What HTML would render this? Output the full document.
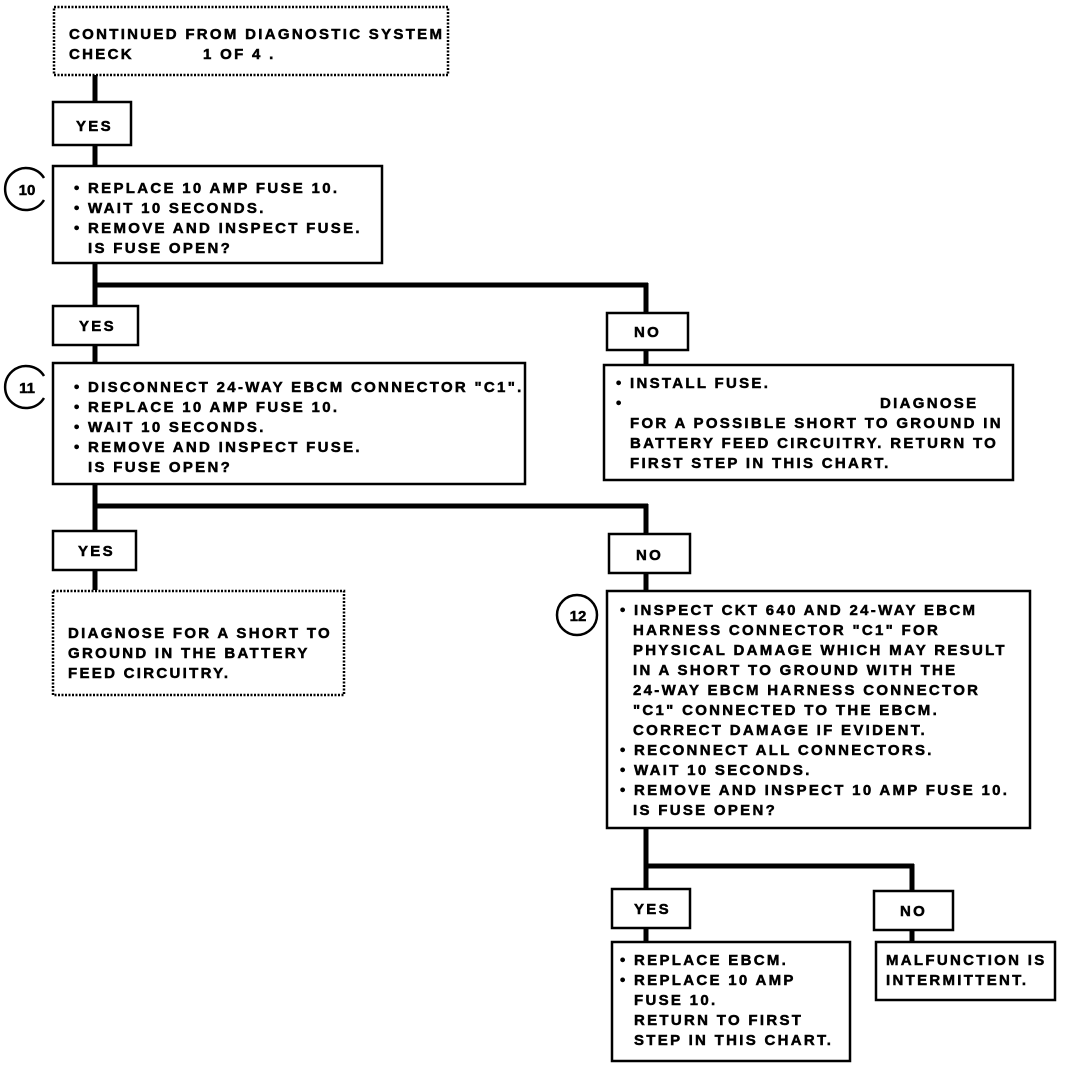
<!DOCTYPE html>
<html><head><meta charset="utf-8"><style>
html,body{margin:0;padding:0;background:#fff}
svg text{font-family:"Liberation Sans",Arial,sans-serif;font-weight:bold;font-size:15px;letter-spacing:2.3px;fill:#000;stroke:#000;stroke-width:0.5px}
</style></head><body>
<svg width="1072" height="1070" viewBox="0 0 1072 1070" xmlns="http://www.w3.org/2000/svg">
<g fill="none" stroke="#000">
<g stroke-width="5">
<line x1="95" y1="75" x2="95" y2="101"/>
<line x1="95" y1="145" x2="95" y2="165"/>
<line x1="95" y1="263" x2="95" y2="305"/>
<line x1="93" y1="285" x2="648" y2="285"/>
<line x1="646" y1="283" x2="646" y2="312"/>
<line x1="95" y1="345" x2="95" y2="362"/>
<line x1="646" y1="350" x2="646" y2="364"/>
<line x1="95" y1="484" x2="95" y2="530"/>
<line x1="93" y1="506" x2="648" y2="506"/>
<line x1="646" y1="504" x2="646" y2="533"/>
<line x1="95" y1="570" x2="95" y2="590"/>
<line x1="646" y1="573" x2="646" y2="590"/>
<line x1="646" y1="828" x2="646" y2="888"/>
<line x1="644" y1="866" x2="914" y2="866"/>
<line x1="912" y1="864" x2="912" y2="890"/>
<line x1="646" y1="928" x2="646" y2="941"/>
<line x1="912" y1="930" x2="912" y2="941"/>
</g>
<g stroke-width="2.5">
<rect x="54" y="7" width="394" height="68" stroke-dasharray="2 1.5"/>
<rect x="53" y="102" width="78" height="43"/>
<rect x="53" y="166" width="329" height="97"/>
<rect x="53" y="306" width="85" height="39"/>
<rect x="607" y="313" width="81" height="37"/>
<rect x="53" y="363" width="472" height="121"/>
<rect x="604" y="365" width="409" height="115"/>
<rect x="53" y="531" width="83" height="39"/>
<rect x="609" y="534" width="81" height="39"/>
<rect x="53" y="591" width="291" height="104" stroke-dasharray="2 1.5"/>
<rect x="607" y="591" width="423" height="237"/>
<rect x="612" y="889" width="78" height="39"/>
<rect x="874" y="891" width="79" height="39"/>
<rect x="612" y="942" width="238" height="119"/>
<rect x="876" y="942" width="179" height="58"/>
</g>
<g stroke-width="2.5">
<path d="M44 178 A21 21 0 1 0 44 200"/>
<path d="M44 376 A21 21 0 1 0 44 398"/>
<circle cx="577" cy="615" r="20"/>
</g>
</g>
<text x="27" y="195" text-anchor="middle" font-size="14" style="letter-spacing:0">10</text>
<text x="27" y="393" text-anchor="middle" font-size="14" style="letter-spacing:0">11</text>
<text x="578" y="621" text-anchor="middle" font-size="14" style="letter-spacing:0">12</text>

<text x="69" y="39">CONTINUED FROM DIAGNOSTIC SYSTEM</text>
<text x="69" y="59">CHECK</text><text x="203" y="59">1 OF 4 .</text>
<text x="76" y="131">YES</text>
<text x="74" y="193">• REPLACE 10 AMP FUSE 10.</text>
<text x="74" y="213">• WAIT 10 SECONDS.</text>
<text x="74" y="233">• REMOVE AND INSPECT FUSE.</text>
<text x="88" y="253">IS FUSE OPEN?</text>
<text x="79" y="331">YES</text>
<text x="634" y="337">NO</text>
<text x="74" y="392">• DISCONNECT 24-WAY EBCM CONNECTOR "C1".</text>
<text x="74" y="412">• REPLACE 10 AMP FUSE 10.</text>
<text x="74" y="432">• WAIT 10 SECONDS.</text>
<text x="74" y="452">• REMOVE AND INSPECT FUSE.</text>
<text x="88" y="472">IS FUSE OPEN?</text>
<text x="616" y="388">• INSTALL FUSE.</text>
<text x="616" y="408">•</text><text x="880" y="408">DIAGNOSE</text>
<text x="630" y="428">FOR A POSSIBLE SHORT TO GROUND IN</text>
<text x="630" y="448">BATTERY FEED CIRCUITRY. RETURN TO</text>
<text x="630" y="468">FIRST STEP IN THIS CHART.</text>
<text x="78" y="556">YES</text>
<text x="636" y="560">NO</text>
<text x="68" y="638">DIAGNOSE FOR A SHORT TO</text>
<text x="68" y="658">GROUND IN THE BATTERY</text>
<text x="68" y="678">FEED CIRCUITRY.</text>
<text x="620" y="615">• INSPECT CKT 640 AND 24-WAY EBCM</text>
<text x="633" y="635">HARNESS CONNECTOR "C1" FOR</text>
<text x="633" y="655">PHYSICAL DAMAGE WHICH MAY RESULT</text>
<text x="633" y="675">IN A SHORT TO GROUND WITH THE</text>
<text x="633" y="695">24-WAY EBCM HARNESS CONNECTOR</text>
<text x="633" y="715">"C1" CONNECTED TO THE EBCM.</text>
<text x="633" y="735">CORRECT DAMAGE IF EVIDENT.</text>
<text x="620" y="755">• RECONNECT ALL CONNECTORS.</text>
<text x="620" y="775">• WAIT 10 SECONDS.</text>
<text x="620" y="795">• REMOVE AND INSPECT 10 AMP FUSE 10.</text>
<text x="633" y="815">IS FUSE OPEN?</text>
<text x="634" y="914">YES</text>
<text x="900" y="916">NO</text>
<text x="620" y="965">• REPLACE EBCM.</text>
<text x="620" y="985">• REPLACE 10 AMP</text>
<text x="634" y="1005">FUSE 10.</text>
<text x="634" y="1025">RETURN TO FIRST</text>
<text x="634" y="1045">STEP IN THIS CHART.</text>
<text x="886" y="965">MALFUNCTION IS</text>
<text x="886" y="985">INTERMITTENT.</text>
</svg>
</body></html>
